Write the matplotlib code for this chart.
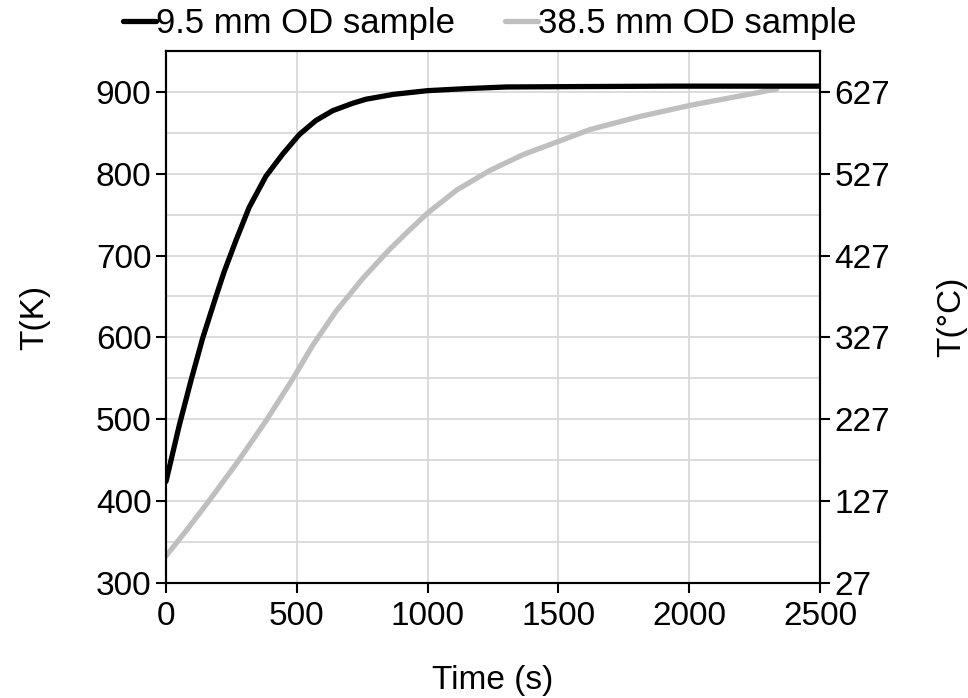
import matplotlib.pyplot as plt
import numpy as np
from matplotlib.ticker import MultipleLocator

plt.rcParams['font.family'] = ['Liberation Sans', 'DejaVu Sans']

# 9.5 mm OD sample (black)
t_small = [0, 51, 96, 140, 191, 222, 268, 318, 382, 446, 510, 573, 637, 713, 764,
           870, 1000, 1150, 1302, 1600, 1939, 2200, 2500]
T_small = [424, 493, 548, 599, 650, 680, 719, 759, 797, 824, 848, 865, 877, 886, 891,
           897, 901.5, 904, 906, 906.5, 907, 907, 907]

# 38.5 mm OD sample (grey)
t_large = [0, 80, 166, 274, 382, 484, 560, 650, 752, 850, 920, 1000, 1111, 1238, 1366,
           1500, 1621, 1812, 2003, 2194, 2334]
T_large = [333, 365, 401, 448, 498, 549, 590, 632, 672, 706, 728, 752, 780, 804, 823.5,
           839.5, 854, 870, 883.5, 895, 903.5]

fs = 24

fig = plt.figure(figsize=(9.68, 6.98), dpi=100)
ax = fig.add_axes([0.1715, 0.1648, 0.6756, 0.7622])

ax.plot(t_small, T_small, color='black', lw=3.8, solid_capstyle='round', label='9.5 mm OD sample', zorder=3)
ax.plot(t_large, T_large, color='#bfbfbf', lw=3.8, solid_capstyle='round', label='38.5 mm OD sample', zorder=2)

ax.set_xlim(0, 2500)
ax.set_ylim(300, 950)
ax.set_xticks(np.arange(0, 2501, 500))
ax.set_yticks(np.arange(300, 901, 100))
ax.yaxis.set_minor_locator(MultipleLocator(50))
ax.grid(True, which='both', color='#d9d9d9', lw=1.3, zorder=0)
ax.tick_params(which='minor', length=0)
ax.tick_params(which='major', labelsize=fs, width=1.5, length=7, direction='out')
ax.tick_params(axis='x', pad=6)
ax.set_xlabel('Time (s)', fontsize=fs, labelpad=24)
ax.set_ylabel('T(K)', fontsize=fs, labelpad=33)
for s in ax.spines.values():
    s.set_linewidth(1.5)

ax2 = ax.twinx()
ax2.set_ylim(300 - 273, 950 - 273)
ax2.set_yticks(np.arange(27, 628, 100))
ax2.tick_params(labelsize=fs, width=1.5, length=7, direction='out')
ax2.set_ylabel('T(°C)', fontsize=fs, labelpad=33)
for s in ax2.spines.values():
    s.set_linewidth(1.5)

ax.legend(loc='lower center', bbox_to_anchor=(0.495, 0.995), ncol=2, frameon=False,
          fontsize=25, handlelength=0.95, handletextpad=0.0, columnspacing=1.45, borderaxespad=0)

fig.savefig('out.png', dpi=100)
